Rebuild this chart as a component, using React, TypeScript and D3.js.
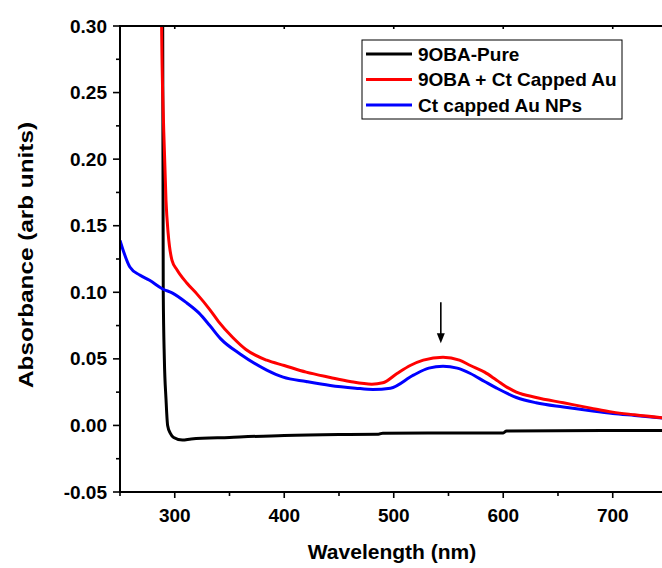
import React from "react";
import * as d3 from "d3";

// wavelength (nm) / absorbance pairs
const pureWl = [286, 289, 289.5, 290.5, 292, 293.5, 296, 299, 307, 315, 350, 400, 450, 486, 490, 550, 600, 603, 700, 760];
const pureAbs = [0.5, 0.3, 0.1, 0.05, 0.02, 0.0, -0.006, -0.009, -0.011, -0.0102, -0.009, -0.0075, -0.0068, -0.0066, -0.0058, -0.0057, -0.0056, -0.0042, -0.0038, -0.0037];

const mixWl = [287, 288, 290, 292, 294, 297.5, 302, 311, 320, 332, 340, 353, 365, 384, 400, 420, 442, 460, 480, 490, 503, 515, 527, 545, 560, 570, 583, 594, 605, 612, 630, 655, 680, 700, 720, 760];
const mixAbs = [0.5, 0.3, 0.22, 0.169, 0.144, 0.124, 0.117, 0.107, 0.099, 0.087, 0.078, 0.066, 0.057, 0.049, 0.045, 0.04, 0.036, 0.033, 0.031, 0.032, 0.039, 0.045, 0.049, 0.0513, 0.049, 0.045, 0.04, 0.034, 0.028, 0.025, 0.021, 0.017, 0.013, 0.01, 0.008, 0.0045];

const npWl = [250, 259, 268, 277, 289, 298, 311, 322, 332, 342, 360, 384, 399, 420, 442, 465, 481, 497, 518, 532, 545, 558, 570, 583, 594, 612, 630, 655, 680, 700, 720, 760];
const npAbs = [0.139, 0.119, 0.113, 0.109, 0.1025, 0.0994, 0.092, 0.0845, 0.075, 0.065, 0.0535, 0.0416, 0.0363, 0.033, 0.03, 0.028, 0.027, 0.028, 0.0378, 0.043, 0.0445, 0.043, 0.039, 0.033, 0.028, 0.021, 0.017, 0.0138, 0.011, 0.009, 0.0075, 0.0045];

const seriesNames = ["9OBA-Pure", "9OBA + Ct Capped Au", "Ct capped Au NPs"];
const seriesColors = ["#000000", "#ff0000", "#0000ff"];

const xMajor = [300, 400, 500, 600, 700];
const xMinor = [250, 350, 450, 550, 650];
const yMajor = [-0.05, 0, 0.05, 0.1, 0.15, 0.2, 0.25, 0.3];
const yMinor = [-0.025, 0.025, 0.075, 0.125, 0.175, 0.225, 0.275];

const arrowAt = { wl: 543, top: 0.0926, bottom: 0.0618 };

const W = 662;
const H = 568;
const left = 120;
const right = 662;
const top = 26;
const bottom = 492;
const font = "Arial, 'Liberation Sans', sans-serif";

export default function App() {
  const x = d3.scaleLinear().domain([250, 745]).range([left, right]);
  const y = d3.scaleLinear().domain([-0.05, 0.3]).range([bottom, top]);

  const line = d3
    .line<[number, number]>()
    .x((d) => x(d[0]))
    .y((d) => y(d[1]))
    .curve(d3.curveMonotoneX);

  const series = [
    pureWl.map((w, i) => [w, pureAbs[i]] as [number, number]),
    mixWl.map((w, i) => [w, mixAbs[i]] as [number, number]),
    npWl.map((w, i) => [w, npAbs[i]] as [number, number]),
  ];

  const ax = x(arrowAt.wl);

  return (
    <svg
      width={W}
      height={H}
      style={{ position: "absolute", left: 0, top: 0, background: "#fff" }}
      fontFamily={font}
    >
      <defs>
        <clipPath id="plot">
          <rect x={left} y={top} width={right - left} height={bottom - top} />
        </clipPath>
      </defs>

      <g clipPath="url(#plot)" fill="none" strokeWidth={3} strokeLinejoin="round">
        {/* draw order: pure, nanoparticles, mixture on top */}
        <path d={line(series[0]) || ""} stroke={seriesColors[0]} />
        <path d={line(series[2]) || ""} stroke={seriesColors[2]} />
        <path d={line(series[1]) || ""} stroke={seriesColors[1]} />
      </g>

      {/* arrow marking the plasmon band */}
      <line x1={ax} x2={ax} y1={y(arrowAt.top)} y2={y(arrowAt.bottom) - 8} stroke="#000" strokeWidth={1.6} />
      <path
        d={`M${ax - 4},${y(arrowAt.bottom) - 10} L${ax + 4},${y(arrowAt.bottom) - 10} L${ax},${y(arrowAt.bottom)} Z`}
        fill="#000"
      />

      {/* axes frame */}
      <g stroke="#000" strokeWidth={2}>
        <line x1={left} x2={left} y1={top - 1} y2={bottom + 1} />
        <line x1={left - 1} x2={right} y1={bottom} y2={bottom} />
        <line x1={left - 1} x2={right} y1={top} y2={top} />
      </g>

      {/* ticks */}
      <g stroke="#000" strokeWidth={1.6}>
        {xMajor.map((v) => (
          <line key={"xm" + v} x1={x(v)} x2={x(v)} y1={bottom} y2={bottom + 6} />
        ))}
        {xMinor.map((v) => (
          <line key={"xn" + v} x1={x(v)} x2={x(v)} y1={bottom} y2={bottom + 4} />
        ))}
        {xMajor.map((v) => (
          <line key={"xt" + v} x1={x(v)} x2={x(v)} y1={top} y2={top + 3} />
        ))}
        {yMajor.map((v) => (
          <line key={"ym" + v} x1={left - 7} x2={left} y1={y(v)} y2={y(v)} />
        ))}
        {yMinor.map((v) => (
          <line key={"yn" + v} x1={left - 4} x2={left} y1={y(v)} y2={y(v)} />
        ))}
      </g>

      <g fontSize={19} fontWeight="bold" fill="#000">
        {xMajor.map((v) => (
          <text key={"xl" + v} x={x(v)} y={522} textAnchor="middle">
            {v}
          </text>
        ))}
        {yMajor.map((v) => (
          <text key={"yl" + v} x={left - 13} y={y(v) + 6.5} textAnchor="end">
            {d3.format(".2f")(v).replace("−", "-")}
          </text>
        ))}
      </g>

      <text x={392} y={559} textAnchor="middle" fontSize={21} fontWeight="bold">
        Wavelength (nm)
      </text>
      <text
        transform={`translate(33,255) rotate(-90)`}
        textAnchor="middle"
        fontSize={21}
        fontWeight="bold"
        textLength={266}
        lengthAdjust="spacingAndGlyphs"
      >
        Absorbance (arb units)
      </text>

      {/* legend */}
      <g>
        <rect x={362} y={40} width={260} height={79} fill="#fff" stroke="#000" strokeWidth={1} />
        {seriesNames.map((name, i) => (
          <g key={name} transform={`translate(0,${54 + i * 25.5})`}>
            <line x1={366} x2={412} y1={0} y2={0} stroke={seriesColors[i]} strokeWidth={3} />
            <text x={418} y={6.5} fontSize={19} fontWeight="bold">
              {name}
            </text>
          </g>
        ))}
      </g>
    </svg>
  );
}
